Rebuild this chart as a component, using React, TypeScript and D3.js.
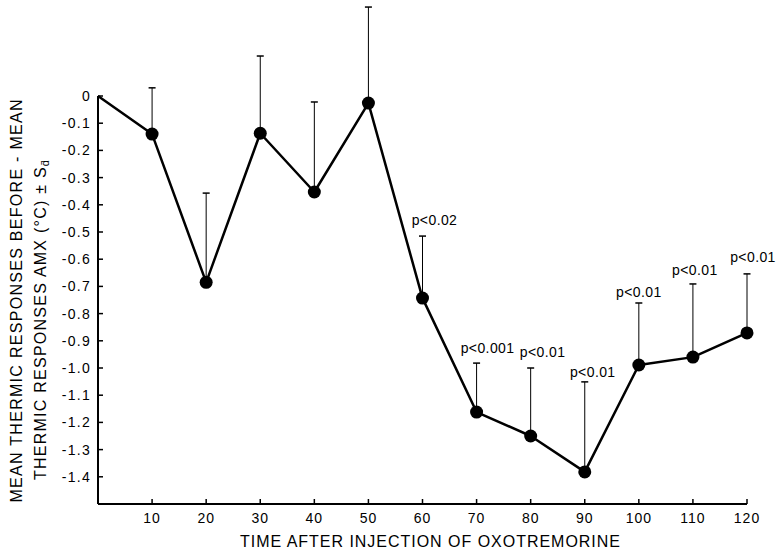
import React from 'react';
import * as d3 from 'd3';

// time after injection (min)
const times = [0, 10, 20, 30, 40, 50, 60, 70, 80, 90, 100, 110, 120];
// mean difference (°C)
const means = [0, -0.14, -0.685, -0.137, -0.353, -0.026, -0.743, -1.162, -1.25, -1.382, -0.989, -0.96, -0.871];
// upper end of the S_d error bar
const errTops = [null, 0.03, -0.357, 0.147, -0.022, 0.327, -0.515, -0.982, -1.0, -1.051, -0.761, -0.691, -0.654];
const pLabels = ['', '', '', '', '', '', 'p<0.02', 'p<0.001', 'p<0.01', 'p<0.01', 'p<0.01', 'p<0.01', 'p<0.01'];
const xTicks = [10, 20, 30, 40, 50, 60, 70, 80, 90, 100, 110, 120];
const yTicks = [0, -0.1, -0.2, -0.3, -0.4, -0.5, -0.6, -0.7, -0.8, -0.9, -1.0, -1.1, -1.2, -1.3, -1.4];

const W = 779, H = 555;
const font = '"Liberation Sans", Arial, sans-serif';

// nudges for the p labels (as in the original hand lettering)
const labelDx = [0, 0, 0, 0, 0, 0, 12, 11, 12, 8, 0, 2, 6];
const labelDy = [0, 0, 0, 0, 0, 0, 11, 10, 11, 5, 6, 9, 12];

export default function App() {
  const x = d3.scaleLinear().domain([0, 120]).range([98, 747]);
  const y = d3.scaleLinear().domain([-1.5, 0]).range([504, 96]);

  const line = d3.line<number>()
    .x((d, i) => x(times[i]))
    .y(d => y(d));

  const fmtY = (v: number) => v === 0 ? '0' : '-' + Math.abs(v).toFixed(1);

  return (
    <svg width={W} height={H} style={{ position: 'absolute', left: 0, top: 0, background: '#fff' }}
      fontFamily={font}>
      {/* axes */}
      <line x1={x(0)} x2={x(0)} y1={y(0)} y2={y(-1.5)} stroke="#000" strokeWidth={2} />
      <line x1={x(0)} x2={x(120)} y1={y(-1.5)} y2={y(-1.5)} stroke="#000" strokeWidth={2} />
      {yTicks.map(t => (
        <g key={t}>
          <line x1={x(0)} x2={x(0) + 5} y1={y(t)} y2={y(t)} stroke="#000" strokeWidth={1.5} />
          <text x={x(0) - 7} y={y(t)} dy="0.35em" textAnchor="end" fontSize={14} letterSpacing={1.3}>{fmtY(t)}</text>
        </g>
      ))}
      {xTicks.map(t => (
        <g key={t}>
          <line x1={x(t)} x2={x(t)} y1={y(-1.5)} y2={y(-1.5) - 5} stroke="#000" strokeWidth={1.5} />
          <text x={x(t)} y={y(-1.5) + 19} textAnchor="middle" fontSize={14} letterSpacing={1}>{t}</text>
        </g>
      ))}

      {/* error bars */}
      {errTops.map((e, i) => e === null ? null : (
        <g key={'e' + i}>
          <line x1={x(times[i])} x2={x(times[i])} y1={y(means[i])} y2={y(e)} stroke="#000" strokeWidth={1} />
          <line x1={x(times[i]) - 3.5} x2={x(times[i]) + 3.5} y1={y(e)} y2={y(e)} stroke="#000" strokeWidth={1.5} />
        </g>
      ))}

      {/* mean line */}
      <path d={line(means) || ''} fill="none" stroke="#000" strokeWidth={2.5} strokeLinejoin="round" />
      {means.map((m, i) => i === 0 ? null : (
        <circle key={'c' + i} cx={x(times[i])} cy={y(m)} r={6.5} fill="#000" />
      ))}

      {/* significance labels */}
      {pLabels.map((p, i) => p === '' ? null : (
        <text key={'p' + i} x={x(times[i]) + labelDx[i]} y={y(errTops[i] as number) - labelDy[i]}
          textAnchor="middle" fontSize={14} letterSpacing={0.4}>{p}</text>
      ))}

      {/* axis titles */}
      <text x={430} y={547} textAnchor="middle" fontSize={16} textLength={380} lengthAdjust="spacing">
        TIME AFTER INJECTION OF OXOTREMORINE
      </text>
      <g transform="rotate(-90)">
        <text x={-301} y={22} textAnchor="middle" fontSize={16} textLength={403} lengthAdjust="spacing">
          MEAN THERMIC RESPONSES BEFORE - MEAN
        </text>
        <text x={-320} y={46} textAnchor="middle" fontSize={16} textLength={320} lengthAdjust="spacing">
          THERMIC RESPONSES AMX (°C) ± S<tspan fontSize={11} dy={3}>d̄</tspan>
        </text>
      </g>
    </svg>
  );
}
